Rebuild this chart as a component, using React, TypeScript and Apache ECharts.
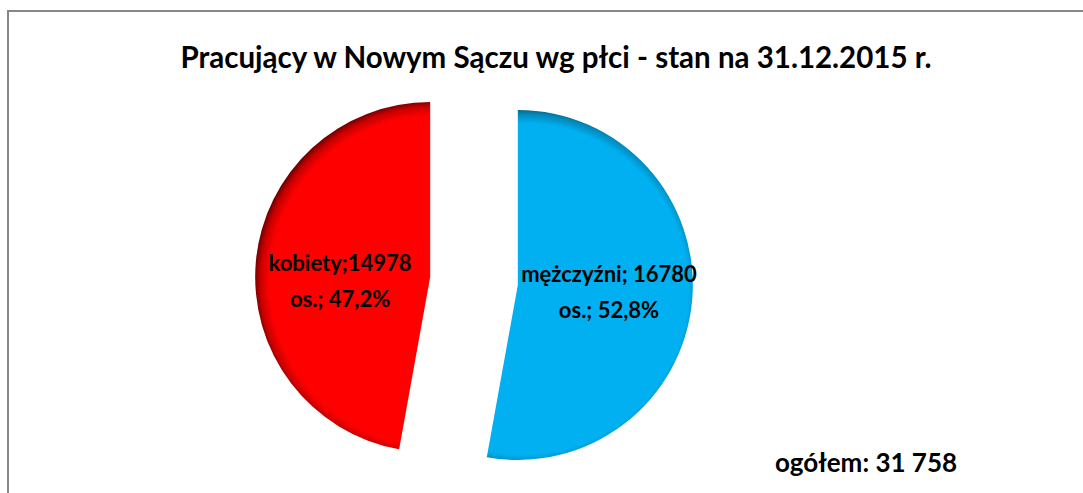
import React, { useEffect, useRef } from "react";
import * as echarts from "echarts";

const titleText = "Pracujący w Nowym Sączu wg płci - stan na 31.12.2015 r.";
const categories = ["mężczyźni", "kobiety"];
const values = [16780, 14978];
const labelTexts = ["mężczyźni; 16780\nos.; 52,8%", "kobiety;14978\nos.; 47,2%"];
const totalText = "ogółem: 31 758";

const FONT = "Lato, 'Open Sans', sans-serif";

export default function App() {
  const ref = useRef<HTMLDivElement>(null);
  useEffect(() => {
    if (!ref.current) return;
    const chart = echarts.init(ref.current, null, { renderer: "svg" });
    const cx = 474;
    const cy = 281;
    const R = 175;
    const off = 44;
    // gradients are in the sector's local (unshifted) space
    const grad = (c: string, m: string, d: string) => ({
      type: "radial",
      x: cx + 5,
      y: cy + 4,
      r: R + 7,
      global: true,
      colorStops: [
        { offset: 0, color: c },
        { offset: 0.91, color: c },
        { offset: 0.96, color: m },
        { offset: 1, color: d },
      ],
    });
    const colors = [
      grad("#00B0F0", "#0389BA", "#0B4F6E"),
      grad("#FF0000", "#C80000", "#600000"),
    ];
    const dxy = [
      { dx: 1, dy: -1 },
      { dx: 0, dy: 11 },
    ];
    chart.setOption({
      animation: false,
      title: {
        text: titleText,
        left: 551,
        top: 36,
        textAlign: "center",
        textStyle: { fontFamily: FONT, fontWeight: "bold", fontSize: 29.5, color: "#000" },
      },
      graphic: [
        {
          type: "polyline",
          shape: { points: [[8, 493], [8, 11], [1083, 11]] },
          style: { stroke: "#878787", lineWidth: 2, fill: "none" },
        },
        {
          type: "text",
          x: 866,
          y: 462,
          style: {
            text: totalText,
            fontFamily: FONT,
            fontWeight: "bold",
            fontSize: 26,
            fill: "#000",
            textAlign: "center",
            textVerticalAlign: "middle",
          },
        },
      ],
      series: [
        {
          type: "pie",
          center: [cx, cy],
          radius: [0, R],
          startAngle: 90,
          clockwise: true,
          selectedMode: "multiple",
          selectedOffset: off,
          emphasis: { disabled: true },
          label: {
            show: true,
            position: "inside",
            fontFamily: FONT,
            fontWeight: "bold",
            fontSize: 22,
            lineHeight: 36,
            color: "#000",
            formatter: (p: any) => labelTexts[p.dataIndex],
          },
          labelLayout: (p: any) => dxy[p.dataIndex],
          labelLine: { show: false },
          data: categories.map((name, i) => ({
            name,
            value: values[i],
            selected: true,
            itemStyle: { color: colors[i] },
          })),
        },
      ],
    });
    return () => chart.dispose();
  }, []);
  return (
    <div
      ref={ref}
      style={{ position: "absolute", left: 0, top: 0, width: 1083, height: 493, background: "#fff" }}
    />
  );
}
